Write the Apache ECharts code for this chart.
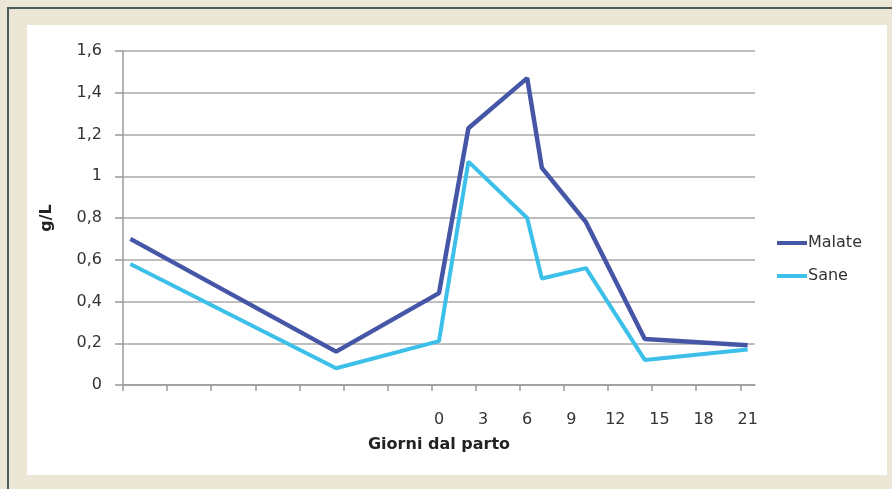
<!DOCTYPE html>
<html>
<head>
<meta charset="utf-8">
<script src="https://cdn.jsdelivr.net/npm/echarts@6/dist/echarts.min.js"></script>
<style>
  html, body { margin: 0; padding: 0; }
  body { width: 892px; height: 489px; background: #ebe6d6; position: relative; overflow: hidden; }
  #frameTop { position: absolute; left: 7px; top: 7px; width: 885px; height: 2px; background: #4b5c57; }
  #frameLeft { position: absolute; left: 7px; top: 7px; width: 2px; height: 482px; background: #4b5c57; }
  #panel { position: absolute; left: 27px; top: 25px; width: 860px; height: 450px; background: #ffffff; }
  #chart { position: absolute; left: 0; top: 0; width: 892px; height: 489px; }
</style>
</head>
<body>
<div id="frameTop"></div>
<div id="frameLeft"></div>
<div id="panel"></div>
<div id="chart"></div>
<script>
// Days relative to calving
const days = [-21, -7, 0, 2, 6, 7, 10, 14, 21];
// Concentration (g/L)
const malate = [0.70, 0.16, 0.44, 1.23, 1.47, 1.04, 0.78, 0.22, 0.19];
const sane   = [0.58, 0.08, 0.21, 1.07, 0.80, 0.51, 0.56, 0.12, 0.17];
// Axis ticks (every 3 days) and the labelled ones
const tickDays  = [-21, -18, -15, -12, -9, -6, -3, 0, 3, 6, 9, 12, 15, 18, 21];
const labelDays = [0, 3, 6, 9, 12, 15, 18, 21];

const FONT = 'DejaVu Sans';
const chart = echarts.init(document.getElementById('chart'), null, { renderer: 'canvas' });

const pairs = vals => days.map((d, i) => [d, vals[i]]);

chart.setOption({
  backgroundColor: 'transparent',
  animation: false,
  textStyle: { fontFamily: FONT },
  grid: { left: 123, right: 137, top: 51, bottom: 104, containLabel: false },
  legend: {
    orient: 'vertical',
    left: 772,
    top: 230,
    icon: 'rect',
    itemWidth: 30,
    itemHeight: 4,
    itemGap: 17,
    textStyle: { fontFamily: FONT, fontSize: 16, color: '#333333', padding: [0, 0, 0, -4] },
    data: ['Malate', 'Sane']
  },
  xAxis: {
    type: 'value',
    min: -21.5,
    max: 21.5,
    name: 'Giorni dal parto',
    nameLocation: 'middle',
    nameGap: 52,
    nameTextStyle: { fontFamily: FONT, fontSize: 16, fontWeight: 'bold', color: '#222222' },
    axisLine: { show: true, onZero: false, lineStyle: { color: '#9a9a9a', width: 1.5 } },
    axisTick: {
      show: true,
      length: 6,
      lineStyle: { color: '#9a9a9a', width: 1.5 },
      customValues: tickDays.map(d => d - 0.5)
    },
    axisLabel: {
      customValues: labelDays,
      margin: 27,
      fontFamily: FONT,
      fontSize: 16,
      color: '#333333'
    },
    splitLine: { show: false }
  },
  yAxis: {
    type: 'value',
    min: 0,
    max: 1.6,
    interval: 0.2,
    name: 'g/L',
    nameLocation: 'middle',
    nameRotate: 90,
    nameGap: 68,
    nameTextStyle: { fontFamily: FONT, fontSize: 16, fontWeight: 'bold', color: '#222222' },
    axisLine: { show: true, onZero: false, lineStyle: { color: '#9a9a9a', width: 1.5 } },
    axisTick: { show: true, length: 8, lineStyle: { color: '#9a9a9a', width: 1.5 } },
    axisLabel: {
      margin: 21,
      fontFamily: FONT,
      fontSize: 16,
      color: '#333333',
      formatter: v => String(Math.round(v * 10) / 10).replace('.', ',')
    },
    splitLine: { show: true, lineStyle: { color: '#a8a8a8', width: 1.5 } }
  },
  series: [
    {
      name: 'Malate',
      type: 'line',
      data: pairs(malate),
      symbol: 'none',
      color: '#4656a6',
      lineStyle: { width: 4.5, color: '#4656a6' }
    },
    {
      name: 'Sane',
      type: 'line',
      data: pairs(sane),
      symbol: 'none',
      color: '#3cc0ea',
      lineStyle: { width: 4, color: '#3cc0ea' }
    }
  ]
});
</script>
</body>
</html>
